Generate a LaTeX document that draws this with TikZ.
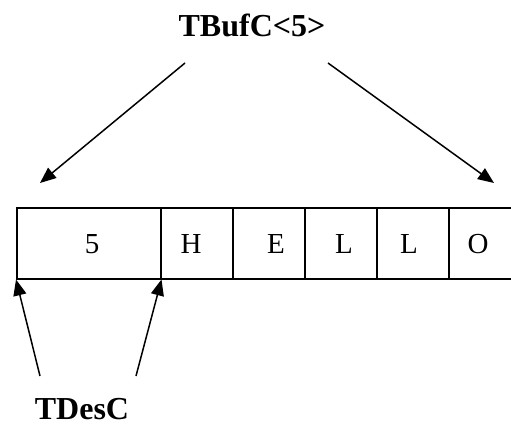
\documentclass[tikz,border=0pt]{standalone}
\usepackage{fontspec}
\setmainfont{Liberation Serif}
\usetikzlibrary{arrows.meta}
\begin{document}
\begin{tikzpicture}[x=1pt,y=-1pt,
  cell/.style={draw,line width=1.5pt,minimum height=71pt,inner sep=0pt,anchor=north west},
  lab/.style={font=\fontsize{32}{36}\selectfont\bfseries,anchor=base,inner sep=0pt},
  ch/.style={font=\fontsize{29}{32}\selectfont,anchor=base,inner sep=0pt},
  arr/.style={line width=1.5pt,-{Triangle[length=16pt,width=13pt]}}]
\useasboundingbox (0,0) rectangle (511,423);
% cells
\begin{scope}
\clip (0,0) rectangle (511,423);
\node[cell,minimum width=144pt] (c1) at (16,207) {};
\node[cell,minimum width=72pt] (c2) at (160,207) {};
\node[cell,minimum width=72pt] (c3) at (232,207) {};
\node[cell,minimum width=72pt] (c4) at (304,207) {};
\node[cell,minimum width=72pt] (c5) at (376,207) {};
\node[cell,minimum width=72pt] (c6) at (448,207) {};
\end{scope}
% cell contents
\node[ch] (t1) at (92,253) {5};
\node[ch] (t2) at (191,253) {H};
\node[ch] (t3) at (276,253) {E};
\node[ch] (t4) at (344,253) {L};
\node[ch] (t5) at (409,253) {L};
\node[ch] (t6) at (478,253) {O};
% labels
\node[lab] (tbuf) at (252,36) {TBufC<5>};
\node[lab] (tdes) at (82,419) {TDesC};
% arrow end points
\coordinate (ts1) at (185,63);
\coordinate (ts2) at (328,63);
\coordinate (te1) at (40,183);
\coordinate (te2) at (494,183);
\coordinate (bs1) at (40,376);
\coordinate (bs2) at (136,376);
\draw[arr] (ts1) -- (te1);
\draw[arr] (ts2) -- (te2);
\draw[arr] (bs1) -- (c1.south west);
\draw[arr] (bs2) -- (c1.south east);
\end{tikzpicture}
\end{document}
